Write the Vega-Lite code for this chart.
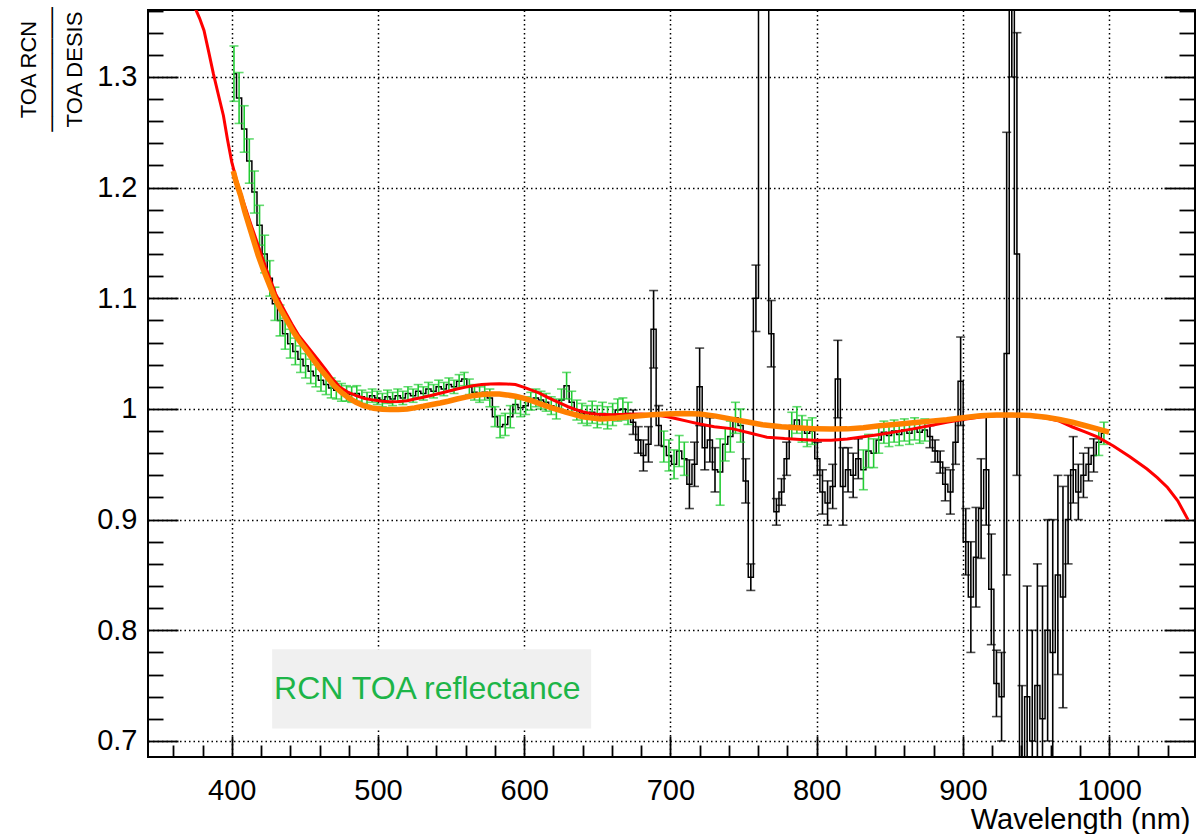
{
  "$schema": "https://vega.github.io/schema/vega-lite/v6.json",
  "width": 1047,
  "height": 747,
  "autosize": {"type": "none"},
  "padding": {"left": 148, "top": 10, "right": 2, "bottom": 77},
  "background": "white",
  "config": {
    "view": {"stroke": "#000000", "strokeWidth": 2},
    "font": "Liberation Sans",
    "axis": {"labelOverlap": false, "labelFlush": false, "labelBound": false}
  },
  "resolve": {"axis": {"x": "independent", "y": "independent"}},
  "datasets": {
    "hist": [
      {"x": 401.5, "y": 1.303, "lo": 1.278, "hi": 1.328, "g": "ok"},
      {"x": 405, "y": 1.281, "lo": 1.258, "hi": 1.304, "g": "ok"},
      {"x": 408.5, "y": 1.253, "lo": 1.232, "hi": 1.274, "g": "ok"},
      {"x": 412, "y": 1.224, "lo": 1.204, "hi": 1.244, "g": "ok"},
      {"x": 415.5, "y": 1.196, "lo": 1.177, "hi": 1.215, "g": "ok"},
      {"x": 419, "y": 1.166, "lo": 1.148, "hi": 1.184, "g": "ok"},
      {"x": 422.5, "y": 1.14, "lo": 1.123, "hi": 1.157, "g": "ok"},
      {"x": 426, "y": 1.118, "lo": 1.102, "hi": 1.134, "g": "ok"},
      {"x": 429.5, "y": 1.095, "lo": 1.08, "hi": 1.11, "g": "ok"},
      {"x": 433, "y": 1.08, "lo": 1.066, "hi": 1.094, "g": "ok"},
      {"x": 436.5, "y": 1.068, "lo": 1.054, "hi": 1.082, "g": "ok"},
      {"x": 440, "y": 1.059, "lo": 1.046, "hi": 1.072, "g": "ok"},
      {"x": 443.5, "y": 1.052, "lo": 1.04, "hi": 1.064, "g": "ok"},
      {"x": 447, "y": 1.045, "lo": 1.033, "hi": 1.057, "g": "ok"},
      {"x": 450.5, "y": 1.039, "lo": 1.028, "hi": 1.05, "g": "ok"},
      {"x": 454, "y": 1.034, "lo": 1.023, "hi": 1.045, "g": "ok"},
      {"x": 457.5, "y": 1.03, "lo": 1.02, "hi": 1.04, "g": "ok"},
      {"x": 461, "y": 1.026, "lo": 1.016, "hi": 1.036, "g": "ok"},
      {"x": 464.5, "y": 1.022, "lo": 1.013, "hi": 1.031, "g": "ok"},
      {"x": 468, "y": 1.019, "lo": 1.01, "hi": 1.028, "g": "ok"},
      {"x": 471.5, "y": 1.017, "lo": 1.009, "hi": 1.025, "g": "ok"},
      {"x": 475, "y": 1.015, "lo": 1.007, "hi": 1.023, "g": "ok"},
      {"x": 478.5, "y": 1.014, "lo": 1.007, "hi": 1.021, "g": "ok"},
      {"x": 482, "y": 1.013, "lo": 1.006, "hi": 1.02, "g": "ok"},
      {"x": 485.5, "y": 1.014, "lo": 1.007, "hi": 1.021, "g": "ok"},
      {"x": 489, "y": 1.011, "lo": 1.005, "hi": 1.017, "g": "ok"},
      {"x": 492.5, "y": 1.009, "lo": 1.003, "hi": 1.015, "g": "ok"},
      {"x": 496, "y": 1.012, "lo": 1.006, "hi": 1.018, "g": "ok"},
      {"x": 499.5, "y": 1.01, "lo": 1.004, "hi": 1.016, "g": "ok"},
      {"x": 503, "y": 1.008, "lo": 1.002, "hi": 1.014, "g": "ok"},
      {"x": 506.5, "y": 1.011, "lo": 1.005, "hi": 1.017, "g": "ok"},
      {"x": 510, "y": 1.009, "lo": 1.003, "hi": 1.015, "g": "ok"},
      {"x": 513.5, "y": 1.012, "lo": 1.006, "hi": 1.018, "g": "ok"},
      {"x": 517, "y": 1.01, "lo": 1.004, "hi": 1.016, "g": "ok"},
      {"x": 520.5, "y": 1.014, "lo": 1.008, "hi": 1.02, "g": "ok"},
      {"x": 524, "y": 1.012, "lo": 1.006, "hi": 1.018, "g": "ok"},
      {"x": 527.5, "y": 1.016, "lo": 1.01, "hi": 1.022, "g": "ok"},
      {"x": 531, "y": 1.014, "lo": 1.008, "hi": 1.02, "g": "ok"},
      {"x": 534.5, "y": 1.018, "lo": 1.012, "hi": 1.024, "g": "ok"},
      {"x": 538, "y": 1.016, "lo": 1.01, "hi": 1.022, "g": "ok"},
      {"x": 541.5, "y": 1.02, "lo": 1.014, "hi": 1.026, "g": "ok"},
      {"x": 545, "y": 1.018, "lo": 1.012, "hi": 1.024, "g": "ok"},
      {"x": 548.5, "y": 1.022, "lo": 1.016, "hi": 1.028, "g": "ok"},
      {"x": 552, "y": 1.02, "lo": 1.014, "hi": 1.026, "g": "ok"},
      {"x": 555.5, "y": 1.025, "lo": 1.019, "hi": 1.031, "g": "ok"},
      {"x": 559, "y": 1.027, "lo": 1.021, "hi": 1.033, "g": "ok"},
      {"x": 562.5, "y": 1.02, "lo": 1.013, "hi": 1.027, "g": "ok"},
      {"x": 566, "y": 1.015, "lo": 1.008, "hi": 1.022, "g": "ok"},
      {"x": 569.5, "y": 1.013, "lo": 1.006, "hi": 1.02, "g": "ok"},
      {"x": 573, "y": 1.015, "lo": 1.008, "hi": 1.022, "g": "ok"},
      {"x": 576.5, "y": 1.01, "lo": 1.002, "hi": 1.018, "g": "ok"},
      {"x": 580, "y": 0.993, "lo": 0.984, "hi": 1.002, "g": "ok"},
      {"x": 583.5, "y": 0.984, "lo": 0.974, "hi": 0.994, "g": "ok"},
      {"x": 587, "y": 0.986, "lo": 0.976, "hi": 0.996, "g": "ok"},
      {"x": 590.5, "y": 0.993, "lo": 0.983, "hi": 1.003, "g": "ok"},
      {"x": 594, "y": 1.004, "lo": 0.996, "hi": 1.012, "g": "ok"},
      {"x": 597.5, "y": 1.001, "lo": 0.993, "hi": 1.009, "g": "ok"},
      {"x": 601, "y": 1.003, "lo": 0.995, "hi": 1.011, "g": "ok"},
      {"x": 604.5, "y": 1.007, "lo": 0.999, "hi": 1.015, "g": "ok"},
      {"x": 608, "y": 1.01, "lo": 1.002, "hi": 1.018, "g": "ok"},
      {"x": 611.5, "y": 1.008, "lo": 1.0, "hi": 1.016, "g": "ok"},
      {"x": 615, "y": 1.006, "lo": 0.998, "hi": 1.014, "g": "ok"},
      {"x": 618.5, "y": 1.003, "lo": 0.995, "hi": 1.011, "g": "ok"},
      {"x": 622, "y": 1.0, "lo": 0.991, "hi": 1.009, "g": "ok"},
      {"x": 625.5, "y": 1.008, "lo": 0.998, "hi": 1.018, "g": "ok"},
      {"x": 629, "y": 1.021, "lo": 1.009, "hi": 1.033, "g": "ok"},
      {"x": 632.5, "y": 1.006, "lo": 0.996, "hi": 1.016, "g": "ok"},
      {"x": 636, "y": 0.999, "lo": 0.99, "hi": 1.008, "g": "ok"},
      {"x": 639.5, "y": 0.996, "lo": 0.987, "hi": 1.005, "g": "ok"},
      {"x": 643, "y": 0.994, "lo": 0.985, "hi": 1.003, "g": "ok"},
      {"x": 646.5, "y": 0.997, "lo": 0.987, "hi": 1.007, "g": "ok"},
      {"x": 650, "y": 0.993, "lo": 0.983, "hi": 1.003, "g": "ok"},
      {"x": 653.5, "y": 0.996, "lo": 0.986, "hi": 1.006, "g": "ok"},
      {"x": 657, "y": 0.992, "lo": 0.982, "hi": 1.002, "g": "ok"},
      {"x": 660.5, "y": 0.995, "lo": 0.985, "hi": 1.005, "g": "ok"},
      {"x": 664, "y": 0.999, "lo": 0.989, "hi": 1.009, "g": "ok"},
      {"x": 667.5, "y": 1.0, "lo": 0.99, "hi": 1.01, "g": "ok"},
      {"x": 671, "y": 0.996, "lo": 0.986, "hi": 1.006, "g": "ok"},
      {"x": 674.5, "y": 0.988, "lo": 0.977, "hi": 0.999, "g": "bad"},
      {"x": 678, "y": 0.972, "lo": 0.96, "hi": 0.984, "g": "bad"},
      {"x": 681.5, "y": 0.958, "lo": 0.944, "hi": 0.972, "g": "bad"},
      {"x": 685, "y": 0.968, "lo": 0.952, "hi": 0.984, "g": "bad"},
      {"x": 688.5, "y": 1.072, "lo": 1.037, "hi": 1.107, "g": "bad"},
      {"x": 692, "y": 0.985, "lo": 0.967, "hi": 1.003, "g": "bad"},
      {"x": 695.5, "y": 0.966, "lo": 0.952, "hi": 0.98, "g": "ok"},
      {"x": 699, "y": 0.958, "lo": 0.944, "hi": 0.972, "g": "ok"},
      {"x": 702.5, "y": 0.95, "lo": 0.937, "hi": 0.963, "g": "ok"},
      {"x": 706, "y": 0.962, "lo": 0.948, "hi": 0.976, "g": "ok"},
      {"x": 709.5, "y": 0.955, "lo": 0.94, "hi": 0.97, "g": "ok"},
      {"x": 713, "y": 0.932, "lo": 0.91, "hi": 0.954, "g": "bad"},
      {"x": 716.5, "y": 0.95, "lo": 0.93, "hi": 0.97, "g": "bad"},
      {"x": 720, "y": 1.02, "lo": 0.985, "hi": 1.055, "g": "bad"},
      {"x": 723.5, "y": 0.965, "lo": 0.945, "hi": 0.985, "g": "bad"},
      {"x": 727, "y": 0.972, "lo": 0.952, "hi": 0.992, "g": "bad"},
      {"x": 730.5, "y": 0.945, "lo": 0.925, "hi": 0.965, "g": "bad"},
      {"x": 734, "y": 0.943, "lo": 0.913, "hi": 0.973, "g": "ok"},
      {"x": 737.5, "y": 0.968, "lo": 0.953, "hi": 0.983, "g": "ok"},
      {"x": 741, "y": 0.975, "lo": 0.961, "hi": 0.989, "g": "ok"},
      {"x": 744.5, "y": 0.992, "lo": 0.978, "hi": 1.006, "g": "ok"},
      {"x": 748, "y": 0.985, "lo": 0.97, "hi": 1.0, "g": "ok"},
      {"x": 751.5, "y": 0.935, "lo": 0.915, "hi": 0.955, "g": "bad"},
      {"x": 755, "y": 0.848, "lo": 0.836, "hi": 0.86, "g": "bad"},
      {"x": 758.5, "y": 1.1, "lo": 1.07, "hi": 1.13, "g": "bad"},
      {"x": 762, "y": 1.55, "lo": 1.5, "hi": 1.6, "g": "bad"},
      {"x": 765.5, "y": 1.45, "lo": 1.4, "hi": 1.5, "g": "bad"},
      {"x": 769, "y": 1.068, "lo": 1.038, "hi": 1.098, "g": "bad"},
      {"x": 772.5, "y": 0.907, "lo": 0.895, "hi": 0.919, "g": "bad"},
      {"x": 776, "y": 0.925, "lo": 0.913, "hi": 0.937, "g": "bad"},
      {"x": 779.5, "y": 0.955, "lo": 0.94, "hi": 0.97, "g": "bad"},
      {"x": 783, "y": 0.985, "lo": 0.973, "hi": 0.997, "g": "ok"},
      {"x": 786.5, "y": 0.99, "lo": 0.978, "hi": 1.002, "g": "ok"},
      {"x": 790, "y": 0.982, "lo": 0.97, "hi": 0.994, "g": "ok"},
      {"x": 793.5, "y": 0.978, "lo": 0.966, "hi": 0.99, "g": "ok"},
      {"x": 797, "y": 0.98, "lo": 0.968, "hi": 0.992, "g": "ok"},
      {"x": 800.5, "y": 0.955, "lo": 0.94, "hi": 0.97, "g": "bad"},
      {"x": 804, "y": 0.925, "lo": 0.905, "hi": 0.945, "g": "bad"},
      {"x": 807.5, "y": 0.915, "lo": 0.895, "hi": 0.935, "g": "bad"},
      {"x": 811, "y": 0.93, "lo": 0.91, "hi": 0.95, "g": "bad"},
      {"x": 814.5, "y": 1.027, "lo": 0.992, "hi": 1.062, "g": "bad"},
      {"x": 818, "y": 0.93, "lo": 0.895, "hi": 0.965, "g": "bad"},
      {"x": 821.5, "y": 0.945, "lo": 0.925, "hi": 0.965, "g": "bad"},
      {"x": 825, "y": 0.94, "lo": 0.92, "hi": 0.96, "g": "bad"},
      {"x": 828.5, "y": 0.955, "lo": 0.937, "hi": 0.973, "g": "bad"},
      {"x": 832, "y": 0.945, "lo": 0.927, "hi": 0.963, "g": "ok"},
      {"x": 835.5, "y": 0.962, "lo": 0.947, "hi": 0.977, "g": "ok"},
      {"x": 839, "y": 0.96, "lo": 0.947, "hi": 0.973, "g": "ok"},
      {"x": 842.5, "y": 0.972, "lo": 0.96, "hi": 0.984, "g": "ok"},
      {"x": 846, "y": 0.979, "lo": 0.969, "hi": 0.989, "g": "ok"},
      {"x": 849.5, "y": 0.976, "lo": 0.966, "hi": 0.986, "g": "ok"},
      {"x": 853, "y": 0.98, "lo": 0.97, "hi": 0.99, "g": "ok"},
      {"x": 856.5, "y": 0.977, "lo": 0.967, "hi": 0.987, "g": "ok"},
      {"x": 860, "y": 0.981, "lo": 0.971, "hi": 0.991, "g": "ok"},
      {"x": 863.5, "y": 0.978, "lo": 0.968, "hi": 0.988, "g": "ok"},
      {"x": 867, "y": 0.982, "lo": 0.972, "hi": 0.992, "g": "ok"},
      {"x": 870.5, "y": 0.979, "lo": 0.969, "hi": 0.989, "g": "ok"},
      {"x": 874, "y": 0.981, "lo": 0.971, "hi": 0.991, "g": "ok"},
      {"x": 877.5, "y": 0.975, "lo": 0.965, "hi": 0.985, "g": "bad"},
      {"x": 881, "y": 0.962, "lo": 0.952, "hi": 0.972, "g": "bad"},
      {"x": 884.5, "y": 0.952, "lo": 0.942, "hi": 0.962, "g": "bad"},
      {"x": 888, "y": 0.932, "lo": 0.917, "hi": 0.947, "g": "bad"},
      {"x": 891.5, "y": 0.925, "lo": 0.905, "hi": 0.945, "g": "bad"},
      {"x": 895, "y": 0.97, "lo": 0.95, "hi": 0.99, "g": "bad"},
      {"x": 898.5, "y": 1.025, "lo": 0.985, "hi": 1.065, "g": "bad"},
      {"x": 902, "y": 0.88, "lo": 0.85, "hi": 0.91, "g": "bad"},
      {"x": 905.5, "y": 0.83, "lo": 0.78, "hi": 0.88, "g": "bad"},
      {"x": 909, "y": 0.866, "lo": 0.821, "hi": 0.911, "g": "bad"},
      {"x": 912.5, "y": 0.91, "lo": 0.865, "hi": 0.955, "g": "bad"},
      {"x": 916, "y": 0.945, "lo": 0.895, "hi": 0.995, "g": "bad"},
      {"x": 919.5, "y": 0.837, "lo": 0.787, "hi": 0.887, "g": "bad"},
      {"x": 923, "y": 0.752, "lo": 0.722, "hi": 0.782, "g": "bad"},
      {"x": 926.5, "y": 0.74, "lo": 0.7, "hi": 0.78, "g": "bad"},
      {"x": 930, "y": 1.05, "lo": 0.85, "hi": 1.25, "g": "bad"},
      {"x": 933.5, "y": 1.6, "lo": 1.3, "hi": 1.9, "g": "bad"},
      {"x": 937, "y": 1.14, "lo": 0.94, "hi": 1.34, "g": "bad"},
      {"x": 940.5, "y": 0.65, "lo": 0.55, "hi": 0.75, "g": "bad"},
      {"x": 944, "y": 0.74, "lo": 0.64, "hi": 0.84, "g": "bad"},
      {"x": 947.5, "y": 0.7, "lo": 0.6, "hi": 0.8, "g": "bad"},
      {"x": 951, "y": 0.75, "lo": 0.64, "hi": 0.86, "g": "bad"},
      {"x": 954.5, "y": 0.72, "lo": 0.6, "hi": 0.84, "g": "bad"},
      {"x": 958, "y": 0.8, "lo": 0.7, "hi": 0.9, "g": "bad"},
      {"x": 961.5, "y": 0.78, "lo": 0.66, "hi": 0.9, "g": "bad"},
      {"x": 965, "y": 0.85, "lo": 0.76, "hi": 0.94, "g": "bad"},
      {"x": 968.5, "y": 0.83, "lo": 0.73, "hi": 0.93, "g": "bad"},
      {"x": 972, "y": 0.9, "lo": 0.86, "hi": 0.94, "g": "bad"},
      {"x": 975.5, "y": 0.945, "lo": 0.915, "hi": 0.975, "g": "bad"},
      {"x": 979, "y": 0.925, "lo": 0.9, "hi": 0.95, "g": "bad"},
      {"x": 982.5, "y": 0.94, "lo": 0.92, "hi": 0.96, "g": "bad"},
      {"x": 986, "y": 0.95, "lo": 0.935, "hi": 0.965, "g": "bad"},
      {"x": 989.5, "y": 0.958, "lo": 0.943, "hi": 0.973, "g": "bad"},
      {"x": 993, "y": 0.97, "lo": 0.958, "hi": 0.982, "g": "ok"},
      {"x": 996.5, "y": 0.978, "lo": 0.968, "hi": 0.988, "g": "ok"}
    ],
    "red": [
      {"x": 372, "y": 1.372}, {"x": 375, "y": 1.362}, {"x": 378, "y": 1.353}, {"x": 381, "y": 1.342},
      {"x": 384, "y": 1.324}, {"x": 387.4, "y": 1.303}, {"x": 391, "y": 1.283}, {"x": 394.3, "y": 1.265},
      {"x": 397, "y": 1.244}, {"x": 400, "y": 1.223}, {"x": 403, "y": 1.208}, {"x": 406, "y": 1.195},
      {"x": 409, "y": 1.183}, {"x": 413, "y": 1.167}, {"x": 418, "y": 1.148}, {"x": 424, "y": 1.125},
      {"x": 430, "y": 1.104}, {"x": 436, "y": 1.089}, {"x": 441, "y": 1.077}, {"x": 446, "y": 1.066},
      {"x": 452, "y": 1.056}, {"x": 458, "y": 1.046}, {"x": 464, "y": 1.036}, {"x": 469, "y": 1.027},
      {"x": 474, "y": 1.0196}, {"x": 479, "y": 1.0155}, {"x": 485, "y": 1.012}, {"x": 491, "y": 1.0095},
      {"x": 497, "y": 1.008}, {"x": 503, "y": 1.007}, {"x": 508, "y": 1.0066}, {"x": 514, "y": 1.0068},
      {"x": 520, "y": 1.0075}, {"x": 525, "y": 1.009}, {"x": 531, "y": 1.0106}, {"x": 537, "y": 1.0124},
      {"x": 542.5, "y": 1.0142}, {"x": 548, "y": 1.016}, {"x": 554, "y": 1.018}, {"x": 560, "y": 1.0197},
      {"x": 565, "y": 1.021}, {"x": 571, "y": 1.022}, {"x": 577, "y": 1.0226}, {"x": 583, "y": 1.0228},
      {"x": 588, "y": 1.0226}, {"x": 594, "y": 1.022}, {"x": 600, "y": 1.0195}, {"x": 605, "y": 1.017},
      {"x": 610, "y": 1.0145}, {"x": 615, "y": 1.0112}, {"x": 620, "y": 1.008}, {"x": 625, "y": 1.005},
      {"x": 630, "y": 1.002}, {"x": 635, "y": 0.9995}, {"x": 640, "y": 0.9975}, {"x": 645, "y": 0.996},
      {"x": 650, "y": 0.9952}, {"x": 660, "y": 0.9948}, {"x": 670, "y": 0.9952}, {"x": 680, "y": 0.9954},
      {"x": 690, "y": 0.9945}, {"x": 698, "y": 0.993}, {"x": 705, "y": 0.991}, {"x": 712, "y": 0.9888},
      {"x": 720, "y": 0.9864}, {"x": 730, "y": 0.984}, {"x": 743, "y": 0.982}, {"x": 755, "y": 0.978},
      {"x": 766, "y": 0.9745}, {"x": 778, "y": 0.9732}, {"x": 789, "y": 0.9725}, {"x": 798, "y": 0.9718},
      {"x": 810, "y": 0.9718}, {"x": 821, "y": 0.9728}, {"x": 832, "y": 0.9748}, {"x": 843, "y": 0.977},
      {"x": 855, "y": 0.9795}, {"x": 866, "y": 0.982}, {"x": 878, "y": 0.985}, {"x": 889, "y": 0.988},
      {"x": 900, "y": 0.9905}, {"x": 912, "y": 0.9928}, {"x": 923, "y": 0.9938}, {"x": 934, "y": 0.994},
      {"x": 946, "y": 0.9935}, {"x": 957, "y": 0.9918}, {"x": 966, "y": 0.989}, {"x": 975, "y": 0.9837},
      {"x": 984, "y": 0.979}, {"x": 992, "y": 0.9747}, {"x": 1003, "y": 0.9665}, {"x": 1014, "y": 0.957},
      {"x": 1026, "y": 0.9457}, {"x": 1033, "y": 0.938}, {"x": 1040, "y": 0.929}, {"x": 1047, "y": 0.917},
      {"x": 1054, "y": 0.9}
    ],
    "orange": [
      {"x": 401, "y": 1.215}, {"x": 403, "y": 1.205}, {"x": 406, "y": 1.193}, {"x": 409, "y": 1.178},
      {"x": 412, "y": 1.165}, {"x": 415, "y": 1.152}, {"x": 418, "y": 1.139}, {"x": 421, "y": 1.128},
      {"x": 424, "y": 1.118}, {"x": 427, "y": 1.108}, {"x": 430, "y": 1.0985}, {"x": 433, "y": 1.091},
      {"x": 436, "y": 1.084}, {"x": 439, "y": 1.077}, {"x": 442, "y": 1.07}, {"x": 446, "y": 1.062},
      {"x": 450, "y": 1.055}, {"x": 455, "y": 1.046}, {"x": 460, "y": 1.037}, {"x": 465, "y": 1.029},
      {"x": 470, "y": 1.021}, {"x": 475, "y": 1.015}, {"x": 480, "y": 1.01}, {"x": 485, "y": 1.006},
      {"x": 490, "y": 1.003}, {"x": 497, "y": 1.0006}, {"x": 503, "y": 0.9998}, {"x": 508, "y": 0.9994},
      {"x": 514, "y": 0.9995}, {"x": 520, "y": 1.0}, {"x": 525, "y": 1.001}, {"x": 531, "y": 1.0024},
      {"x": 537, "y": 1.004}, {"x": 542.5, "y": 1.0054}, {"x": 548, "y": 1.007}, {"x": 554, "y": 1.009},
      {"x": 560, "y": 1.0107}, {"x": 565, "y": 1.012}, {"x": 571, "y": 1.013}, {"x": 577, "y": 1.0136},
      {"x": 583, "y": 1.0135}, {"x": 588, "y": 1.0127}, {"x": 594, "y": 1.0115}, {"x": 600, "y": 1.0095},
      {"x": 606, "y": 1.007}, {"x": 611, "y": 1.0045}, {"x": 620, "y": 1.0005}, {"x": 629, "y": 0.997},
      {"x": 640, "y": 0.993}, {"x": 652, "y": 0.991}, {"x": 663, "y": 0.9918}, {"x": 675, "y": 0.9934},
      {"x": 687, "y": 0.9948}, {"x": 698, "y": 0.9955}, {"x": 709, "y": 0.9958}, {"x": 720, "y": 0.9955},
      {"x": 731, "y": 0.9935}, {"x": 741, "y": 0.991}, {"x": 752, "y": 0.9885}, {"x": 763, "y": 0.9858},
      {"x": 776, "y": 0.984}, {"x": 789, "y": 0.9828}, {"x": 800, "y": 0.982}, {"x": 810, "y": 0.9818},
      {"x": 821, "y": 0.982}, {"x": 832, "y": 0.983}, {"x": 843, "y": 0.9848}, {"x": 855, "y": 0.9862},
      {"x": 866, "y": 0.9875}, {"x": 878, "y": 0.989}, {"x": 889, "y": 0.9903}, {"x": 900, "y": 0.992},
      {"x": 912, "y": 0.9938}, {"x": 923, "y": 0.9945}, {"x": 934, "y": 0.9946}, {"x": 946, "y": 0.994},
      {"x": 957, "y": 0.9925}, {"x": 966, "y": 0.9905}, {"x": 975, "y": 0.988}, {"x": 984, "y": 0.9848},
      {"x": 992, "y": 0.982}, {"x": 1000, "y": 0.979}
    ]
  },
  "layer": [
    {
      "data": {"values": [{}]},
      "mark": {"type": "rect", "color": "#f0f0f0"},
      "encoding": {
        "x": {"datum": 427.6, "type": "quantitative", "scale": {"domain": [342.7, 1058.8], "nice": false, "zero": false}, "axis": null},
        "x2": {"datum": 645.8},
        "y": {"datum": 0.7828, "type": "quantitative", "scale": {"domain": [0.6855, 1.3605], "nice": false, "zero": false}, "axis": null},
        "y2": {"datum": 0.7113}
      }
    },
    {
      "data": {"name": "hist"},
      "mark": {"type": "line", "interpolate": "step", "color": "#000000", "strokeWidth": 1.5, "clip": true},
      "encoding": {
        "x": {
          "field": "x", "type": "quantitative",
          "scale": {"domain": [342.7, 1058.8], "nice": false, "zero": false},
          "axis": {
            "orient": "bottom",
            "title": "Wavelength (nm)",
            "values": [400, 500, 600, 700, 800, 900, 1000],
            "format": "d",
            "labelFont": "Liberation Sans", "labelFontSize": 29, "labelColor": "#000000",
            "labelPadding": 40, "labelFlush": false, "labelOverlap": false, "labelBound": false,
            "tickSize": -21,
            "tickColor": "#000000", "tickWidth": 1.8,
            "domain": false,
            "grid": true, "gridColor": "#000000", "gridWidth": 1.5, "gridDash": [1.5, 3],
            "titleFont": "Liberation Sans", "titleFontSize": 29, "titleFontWeight": "normal", "titleColor": "#000000",
            "titleAnchor": "end", "titleAlign": "right", "titleBaseline": "alphabetic", "titleX": 1042, "titleY": 71
          }
        },
        "y": {
          "field": "y", "type": "quantitative",
          "scale": {"domain": [0.6855, 1.3605], "nice": false, "zero": false},
          "axis": {
            "orient": "left",
            "title": ["TOA RCN", "────────", "TOA DESIS"],
            "values": [0.7, 0.72, 0.74, 0.76, 0.78, 0.8, 0.82, 0.84, 0.86, 0.88, 0.9, 0.92, 0.94, 0.96, 0.98, 1, 1.02, 1.04, 1.06, 1.08, 1.1, 1.12, 1.14, 1.16, 1.18, 1.2, 1.22, 1.24, 1.26, 1.28, 1.3, 1.32, 1.34, 1.36],
            "labelExpr": "abs(datum.value*10 - round(datum.value*10)) < 0.01 ? '' + round(datum.value*10)/10 : ''",
            "labelFont": "Liberation Sans", "labelFontSize": 29, "labelColor": "#000000",
            "labelPadding": 41, "labelFlush": false, "labelOverlap": false, "labelBound": false,
            "tickSize": {"condition": {"test": "abs(datum.value*10 - round(datum.value*10)) < 0.01", "value": -30}, "value": -15},
            "tickColor": "#000000", "tickWidth": 1.8,
            "domain": false,
            "grid": true, "gridColor": "#000000", "gridWidth": 1.5, "gridDash": [1.5, 3],
            "gridOpacity": {"condition": {"test": "abs(datum.value*10 - round(datum.value*10)) < 0.01", "value": 1}, "value": 0},
            "titleFont": "Liberation Sans", "titleFontSize": 22, "titleFontWeight": "normal", "titleColor": "#000000",
            "titleLineHeight": 23, "titleAngle": 270, "titleAlign": "center", "titleBaseline": "alphabetic",
            "titleX": -113, "titleY": 59
          }
        }
      }
    },
    {
      "data": {"name": "hist"},
      "mark": {"type": "rule", "strokeWidth": 1.6, "clip": true},
      "encoding": {
        "x": {
          "field": "x", "type": "quantitative",
          "scale": {"domain": [342.7, 1058.8], "nice": false, "zero": false},
          "axis": {
            "orient": "bottom", "title": null, "labels": false, "grid": false, "domain": false,
            "values": [360, 380, 420, 440, 460, 480, 520, 540, 560, 580, 620, 640, 660, 680, 720, 740, 760, 780, 820, 840, 860, 880, 920, 940, 960, 980, 1020, 1040],
            "tickSize": -12, "tickColor": "#000000", "tickWidth": 1.8
          }
        },
        "y": {
          "field": "lo", "type": "quantitative",
          "scale": {"domain": [0.6855, 1.3605], "nice": false, "zero": false},
          "axis": {
            "orient": "right", "title": null, "labels": false, "grid": false, "domain": false,
            "values": [0.7, 0.72, 0.74, 0.76, 0.78, 0.8, 0.82, 0.84, 0.86, 0.88, 0.9, 0.92, 0.94, 0.96, 0.98, 1, 1.02, 1.04, 1.06, 1.08, 1.1, 1.12, 1.14, 1.16, 1.18, 1.2, 1.22, 1.24, 1.26, 1.28, 1.3, 1.32, 1.34, 1.36],
            "tickSize": {"condition": {"test": "abs(datum.value*10 - round(datum.value*10)) < 0.01", "value": -31}, "value": -16},
            "tickColor": "#000000", "tickWidth": 1.8
          }
        },
        "y2": {"field": "hi"},
        "color": {"field": "g", "type": "nominal", "scale": {"domain": ["bad", "ok"], "range": ["#000000", "#22cc33"]}, "legend": null}
      }
    },
    {
      "data": {"name": "hist"},
      "mark": {"type": "tick", "orient": "horizontal", "size": 9, "thickness": 1.6, "clip": true},
      "encoding": {
        "x": {"field": "x", "type": "quantitative", "scale": {"domain": [342.7, 1058.8], "nice": false, "zero": false}, "axis": null},
        "y": {"field": "lo", "type": "quantitative", "scale": {"domain": [0.6855, 1.3605], "nice": false, "zero": false}, "axis": null},
        "color": {"field": "g", "type": "nominal", "scale": {"domain": ["bad", "ok"], "range": ["#000000", "#22cc33"]}, "legend": null}
      }
    },
    {
      "data": {"name": "hist"},
      "mark": {"type": "tick", "orient": "horizontal", "size": 9, "thickness": 1.6, "clip": true},
      "encoding": {
        "x": {"field": "x", "type": "quantitative", "scale": {"domain": [342.7, 1058.8], "nice": false, "zero": false}, "axis": null},
        "y": {"field": "hi", "type": "quantitative", "scale": {"domain": [0.6855, 1.3605], "nice": false, "zero": false}, "axis": null},
        "color": {"field": "g", "type": "nominal", "scale": {"domain": ["bad", "ok"], "range": ["#000000", "#22cc33"]}, "legend": null}
      }
    },
    {
      "data": {"name": "red"},
      "mark": {"type": "line", "color": "#ff0000", "strokeWidth": 3, "clip": true},
      "encoding": {
        "x": {"field": "x", "type": "quantitative", "scale": {"domain": [342.7, 1058.8], "nice": false, "zero": false}, "axis": null},
        "y": {"field": "y", "type": "quantitative", "scale": {"domain": [0.6855, 1.3605], "nice": false, "zero": false}, "axis": null}
      }
    },
    {
      "data": {"name": "orange"},
      "mark": {"type": "line", "color": "#ff8000", "strokeWidth": 5.5, "clip": true},
      "encoding": {
        "x": {"field": "x", "type": "quantitative", "scale": {"domain": [342.7, 1058.8], "nice": false, "zero": false}, "axis": null},
        "y": {"field": "y", "type": "quantitative", "scale": {"domain": [0.6855, 1.3605], "nice": false, "zero": false}, "axis": null}
      }
    },
    {
      "data": {"values": [{}]},
      "mark": {"type": "text", "text": "RCN TOA reflectance", "font": "Liberation Sans", "fontSize": 32, "color": "#1db548", "align": "left", "baseline": "alphabetic"},
      "encoding": {
        "x": {"datum": 428.9, "type": "quantitative", "scale": {"domain": [342.7, 1058.8], "nice": false, "zero": false}, "axis": null},
        "y": {"datum": 0.7376, "type": "quantitative", "scale": {"domain": [0.6855, 1.3605], "nice": false, "zero": false}, "axis": null}
      }
    }
  ]
}
